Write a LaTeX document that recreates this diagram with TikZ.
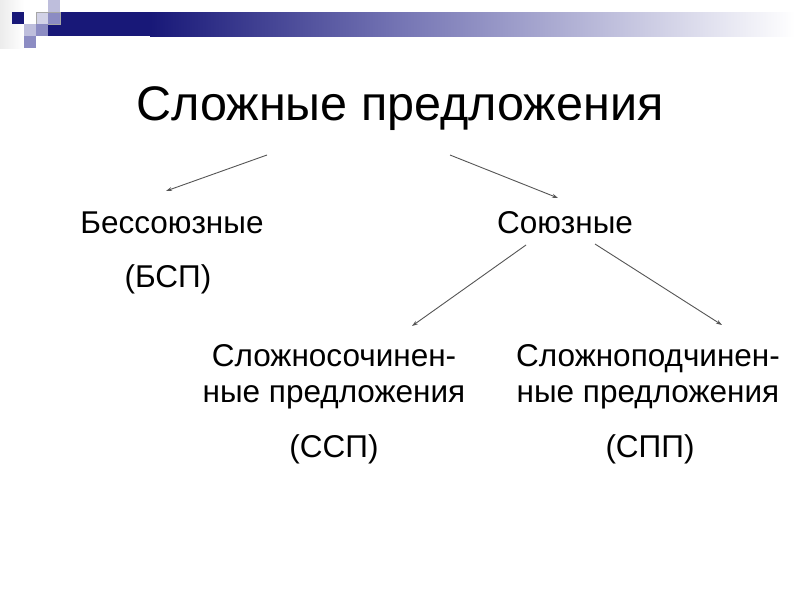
\documentclass[tikz,border=0pt]{standalone}
\usepackage{fontspec}
\setmainfont{Liberation Sans}
\usetikzlibrary{arrows.meta}
\definecolor{navy}{RGB}{24,24,120}
\definecolor{lav}{RGB}{140,140,195}
\definecolor{lavlight}{RGB}{190,190,220}
\definecolor{arrowgrey}{RGB}{85,85,85}
\tikzset{
  body/.style={font=\fontsize{31.5}{36}\selectfont, anchor=base, inner sep=0pt},
  titletext/.style={font=\fontsize{48.5}{54}\selectfont, anchor=base, inner sep=0pt},
  link/.style={draw=arrowgrey, line width=0.9pt, -{Stealth[length=6pt,width=4pt]}},
}
\begin{document}
\begin{tikzpicture}[x=1pt,y=-1pt]
\useasboundingbox (0,0) rectangle (800,600);
\fill[white] (0,0) rectangle (800,600);
% decoration
\shade[left color=white!85!gray, right color=white] (0,0) rectangle (24,48);
\fill[navy] (48,12) rectangle (150,36);
\shade[left color=navy, right color=lav!80!navy] (150,12) rectangle (400,36);
\shade[left color=lav!80!navy, right color=white] (400,12) rectangle (795,36);
\fill[navy] (12,12) rectangle (24,24);
\fill[lavlight] (48,0) rectangle (60,12);
\fill[lavlight!70!white] (36,12) rectangle (48,24);
\fill[lav] (48,12) rectangle (60,24);
\draw[gray!70, line width=0.5pt] (36,12) rectangle (60,24);
\fill[lavlight] (24,24) rectangle (36,36);
\fill[lav] (36,24) rectangle (48,36);
\fill[lav] (24,36) rectangle (36,48);
% texts
\node[titletext] (title) at (400,120) {Сложные предложения};
\node[body] (bsp) at (172,233) {Бессоюзные};
\node[body] (bspabbr) at (168,287) {(БСП)};
\node[body] (sp) at (565,233) {Союзные};
\node[body] (ssp1) at (334,366) {Сложносочинен-};
\node[body] (ssp2) at (334,402) {ные предложения};
\node[body] (sspabbr) at (334,457) {(ССП)};
\node[body] (spp1) at (648,366) {Сложноподчинен-};
\node[body] (spp2) at (648,402) {ные предложения};
\node[body] (sppabbr) at (650,457) {(СПП)};
% arrow endpoints
\coordinate (a1s) at (267,155);
\coordinate (a1e) at (166,191);
\coordinate (a2s) at (450,155);
\coordinate (a2e) at (558,198);
\coordinate (a3s) at (526,245);
\coordinate (a3e) at (412,326);
\coordinate (a4s) at (595,244);
\coordinate (a4e) at (722,325);
\draw[link] (a1s) -- (a1e);
\draw[link] (a2s) -- (a2e);
\draw[link] (a3s) -- (a3e);
\draw[link] (a4s) -- (a4e);
\end{tikzpicture}
\end{document}
